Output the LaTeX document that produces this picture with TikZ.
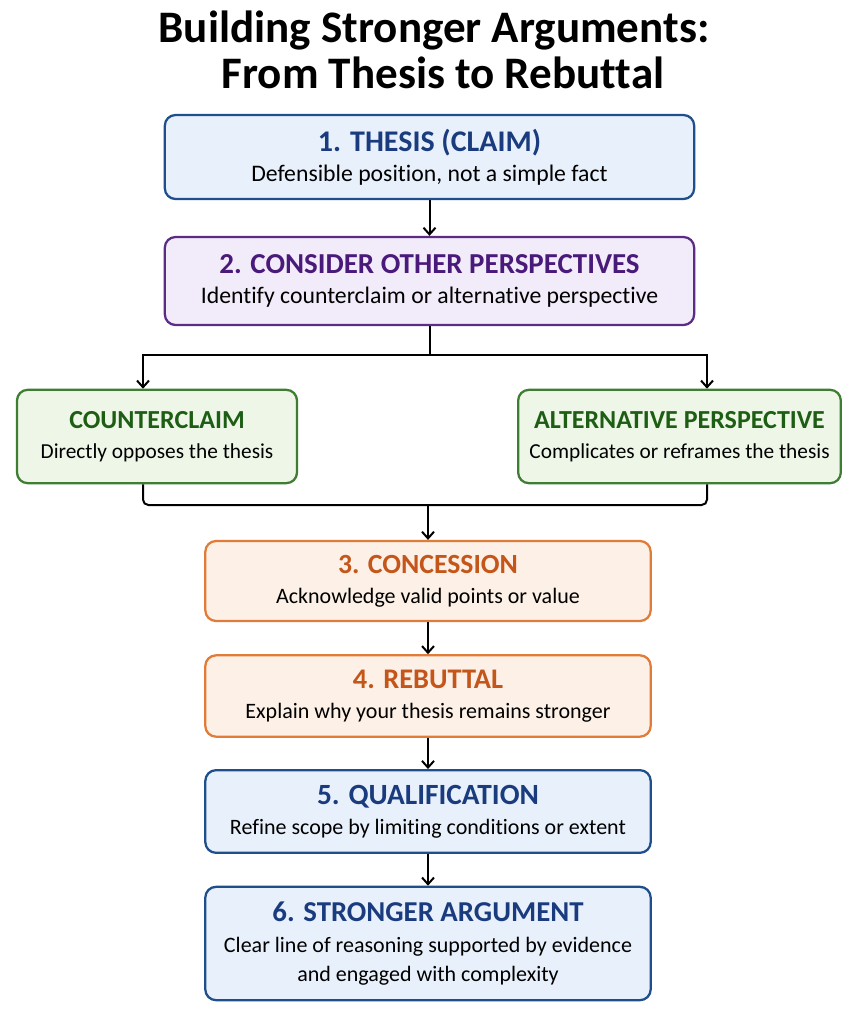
\documentclass[tikz,border=0pt]{standalone}
\usepackage{fontspec}
\setmainfont{Carlito}[Ligatures=NoCommon]
\usepackage{xcolor}
\usetikzlibrary{arrows.meta, positioning, calc}

\definecolor{blueline}{HTML}{1F4E8C}
\definecolor{bluefill}{HTML}{E8F1FB}
\definecolor{bluetext}{HTML}{1A3C7E}
\definecolor{purpleline}{HTML}{5B2C83}
\definecolor{purplefill}{HTML}{F2ECFA}
\definecolor{purpletext}{HTML}{4A1A7A}
\definecolor{greenline}{HTML}{3E7D32}
\definecolor{greenfill}{HTML}{EEF6E8}
\definecolor{greentext}{HTML}{1E5E14}
\definecolor{orangeline}{HTML}{E07B39}
\definecolor{orangefill}{HTML}{FDF0E6}
\definecolor{orangetext}{HTML}{C4561A}

\newcommand{\boxhead}[3][21.5]{{\color{#2}\bfseries\fontsize{#1}{24}\selectfont #3}}

\tikzset{
  stagebox/.style={draw, rounded corners=8pt, line width=1.7pt, align=center,
    inner sep=0pt, font=\fontsize{16.5}{22.5}\selectfont},
  bluebox/.style={stagebox, draw=blueline, fill=bluefill},
  purplebox/.style={stagebox, draw=purpleline, fill=purplefill},
  greenbox/.style={stagebox, draw=greenline, fill=greenfill, font=\fontsize{16}{22.5}\selectfont},
  orangebox/.style={stagebox, draw=orangeline, fill=orangefill},
  titletext/.style={anchor=base, inner sep=0pt, font=\bfseries\fontsize{33.8}{40}\selectfont},
  link/.style={line width=1.5pt, black},
  arr/.style={link, -{Straight Barb[length=5pt, width=9pt, line width=1.5pt]}}
}

\begin{document}
\begin{tikzpicture}[x=0.75pt, y=-0.75pt]
\useasboundingbox (0,0) rectangle (859,1018);

% title
\node[titletext] (title1) at (434,42) {Building Stronger Arguments:};
\node[titletext] (title2) at (443,88) {From Thesis to Rebuttal};

% main stages
\node[bluebox, font=\fontsize{17.8}{22.5}\selectfont, minimum width=397pt, minimum height=63pt] (thesis) at (429.5,157)
  {\boxhead[22.5]{bluetext}{1. THESIS (CLAIM)}\\Defensible position, not a simple fact};
\node[purplebox, font=\fontsize{17.8}{22.5}\selectfont, minimum width=397pt, minimum height=66pt] (consider) at (429.5,281)
  {\boxhead[21.7]{purpletext}{2. CONSIDER OTHER PERSPECTIVES}\\Identify counterclaim or alternative perspective};

% the two branches
\node[greenbox, minimum width=210pt, minimum height=70pt] (counter) at (157,436.5)
  {\boxhead[19.5]{greentext}{COUNTERCLAIM}\\Directly opposes the thesis};
\node[greenbox, minimum width=242pt, minimum height=70pt] (altern) at (679.5,436.5)
  {\boxhead[19.5]{greentext}{ALTERNATIVE PERSPECTIVE}\\Complicates or reframes the thesis};

\node[orangebox, minimum width=334pt, minimum height=60pt] (concess) at (428,581)
  {\boxhead[20.8]{orangetext}{3. CONCESSION}\\Acknowledge valid points or value};
\node[orangebox, minimum width=334pt, minimum height=61pt] (rebut) at (428,696)
  {\boxhead[21.3]{orangetext}{4. REBUTTAL}\\Explain why your thesis remains stronger};
\node[bluebox, minimum width=334pt, minimum height=62pt] (qualif) at (428,811.5)
  {\boxhead[22]{bluetext}{5. QUALIFICATION}\\Refine scope by limiting conditions or extent};
\node[bluebox, font=\fontsize{16.5}{22}\selectfont, minimum width=334pt, minimum height=85pt] (strong) at (428,943.5)
  {\boxhead[21.6]{bluetext}{6. STRONGER ARGUMENT}\\[1pt]Clear line of reasoning supported by evidence\\and engaged with complexity};

% connectors
\coordinate (split) at (429.5,355);
\coordinate (merge) at (428,505);

\draw[arr] (thesis) -- (consider);
\draw[link] (consider.south) -- (split);
\draw[arr] (split) -| ($(counter.north)+(-14,0)$);
\draw[arr] (split) -| ($(altern.north)+(27.5,0)$);
\draw[link, rounded corners=4pt] ($(counter.south)+(-14,0)$) |- (merge)
  -| ($(altern.south)+(27.5,0)$);
\draw[arr] (merge) -- (concess.north);
\draw[arr] (concess) -- (rebut);
\draw[arr] (rebut) -- (qualif);
\draw[arr] (qualif) -- (strong);
\end{tikzpicture}
\end{document}
